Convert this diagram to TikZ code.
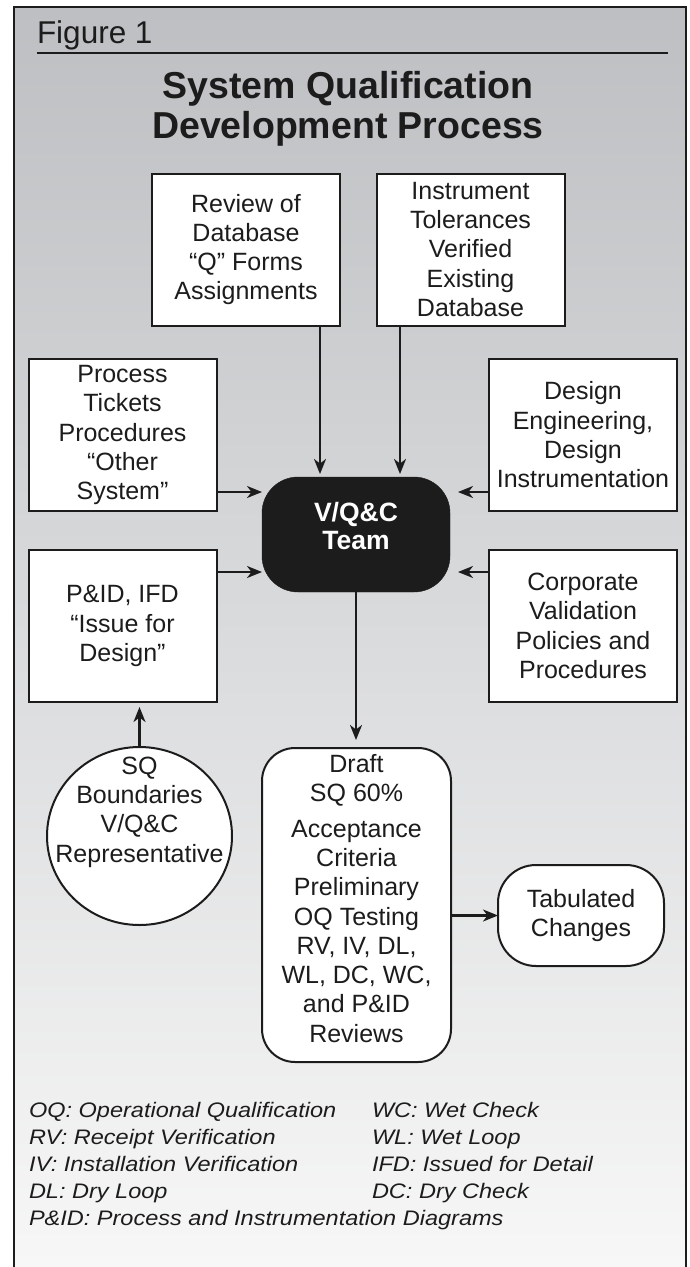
\documentclass[tikz,border=0pt]{standalone}
\usepackage{fontspec}
\setmainfont{Liberation Sans}
\newfontfamily\legendfont[FakeStretch=1.12]{Liberation Sans}
\usetikzlibrary{arrows.meta,shapes.geometric}
\definecolor{panetop}{RGB}{189,191,194}
\definecolor{panebot}{RGB}{247,247,247}
\definecolor{ink}{RGB}{28,28,28}

\begin{document}
\begin{tikzpicture}[x=1pt,y=-1pt,
  every node/.style={inner sep=0pt, outer sep=0pt, text=ink},
  body/.style={font=\fontsize{25}{29.3}\selectfont, align=center},
  sqbox/.style={body, draw=ink, fill=white, line width=2pt,
                minimum width=188pt, minimum height=152pt},
  pill/.style={draw=ink, fill=white, line width=2pt},
  legend/.style={anchor=base west, font=\legendfont\itshape\fontsize{21}{27}\selectfont},
  arr/.style={draw=ink, line width=2.1pt, -{Stealth[length=15pt,width=12pt,inset=4.5pt]}},
]
\useasboundingbox (0,0) rectangle (689,1267);
\fill[white] (0,0) rectangle (689,1267);

% shaded panel with open bottom
\shade[top color=panetop, bottom color=panebot] (14,7) rectangle (686,1267);
\draw[ink, line width=2pt] (14,1270) -- (14,7) -- (686,7) -- (686,1270);

% header
\node[anchor=base west, font=\fontsize{31.5}{36}\selectfont] (fig) at (37,43) {Figure 1};
\draw[ink, line width=2pt] (37,53) -- (668,53);
\node[anchor=north, align=center, font=\bfseries\fontsize{37.5}{40}\selectfont] (title) at (348,71)
  {System Qualification\\Development Process};

% input boxes
\node[sqbox] (review)  at (246,249.5)   {Review of\\Database\\“Q” Forms\\Assignments};
\node[sqbox] (instr)   at (470.5,249.5) {Instrument\\Tolerances\\Verified\\Existing\\Database};
\node[sqbox] (process) at (122.5,435)   {Process\\Tickets\\Procedures\\“Other\\System”};
\node[sqbox] (design)  at (583,435)     {Design\\Engineering,\\Design\\Instrumentation};
\node[sqbox] (pid)     at (122.5,626)   {P\&ID, IFD\\“Issue for\\Design”};
\node[sqbox] (corp)    at (583,626)     {Corporate\\Validation\\Policies and\\Procedures};

% central team
\node[draw=ink, fill=ink, rounded corners=36pt, minimum width=188pt, minimum height=115pt] (team) at (356,534.5) {};
\node[align=center, text=white, font=\bfseries\fontsize{26.5}{28}\selectfont] (teamtxt) at (356,526) {V/Q\&C\\Team};

% lower shapes
\node[pill, ellipse, minimum width=185pt, minimum height=178pt] (sq) at (139.5,836) {};
\node[body] (sqtxt) at (139.5,812) {SQ\\Boundaries\\V/Q\&C\\Representative};

\node[pill, rounded corners=33pt, minimum width=189pt, minimum height=314pt] (draft) at (356.5,905) {};
\node[body] (drafttxt) at (356.5,898.5)
  {Draft\\SQ 60\%\\[6pt]Acceptance\\Criteria\\Preliminary\\OQ Testing\\RV, IV, DL,\\WL, DC, WC,\\and P\&ID\\Reviews};

\node[pill, body, rounded corners=38pt, minimum width=166pt, minimum height=101pt] (tab) at (581,915.5) {Tabulated\\Changes};

% connectors
\coordinate (ca) at (320,0);
\coordinate (cb) at (400,0);
\coordinate (ra) at (0,492);
\coordinate (rb) at (0,572);
\draw[arr, shorten >=3pt] (review.south -| ca) -- (team.north -| ca);
\draw[arr, shorten >=3pt] (instr.south -| cb) -- (team.north -| cb);
\draw[arr] (process.east |- ra) -- (team.west |- ra);
\draw[arr, shorten >=8pt] (design.west |- ra) -- (team.east |- ra);
\draw[arr] (pid.east |- rb) -- (team.west |- rb);
\draw[arr, shorten >=8pt] (corp.west |- rb) -- (team.east |- rb);
\draw[arr, shorten >=8pt] (team.south) -- (team.south |- draft.north);
\draw[arr, shorten >=5pt] (sq.north) -- (sq.north |- pid.south);
\draw[arr] (draft.east |- tab.west) -- (tab.west);

% abbreviations
\node[legend] (l1) at (29,1117) {OQ: Operational Qualification};
\node[legend] (l2) at (29,1144) {RV: Receipt Verification};
\node[legend] (l3) at (29,1171) {IV: Installation Verification};
\node[legend] (l4) at (29,1198) {DL: Dry Loop};
\node[legend] (l5) at (29,1225) {P\&ID: Process and Instrumentation Diagrams};
\node[legend] (r1) at (372,1117) {WC: Wet Check};
\node[legend] (r2) at (372,1144) {WL: Wet Loop};
\node[legend] (r3) at (372,1171) {IFD: Issued for Detail};
\node[legend] (r4) at (372,1198) {DC: Dry Check};
\end{tikzpicture}
\end{document}
